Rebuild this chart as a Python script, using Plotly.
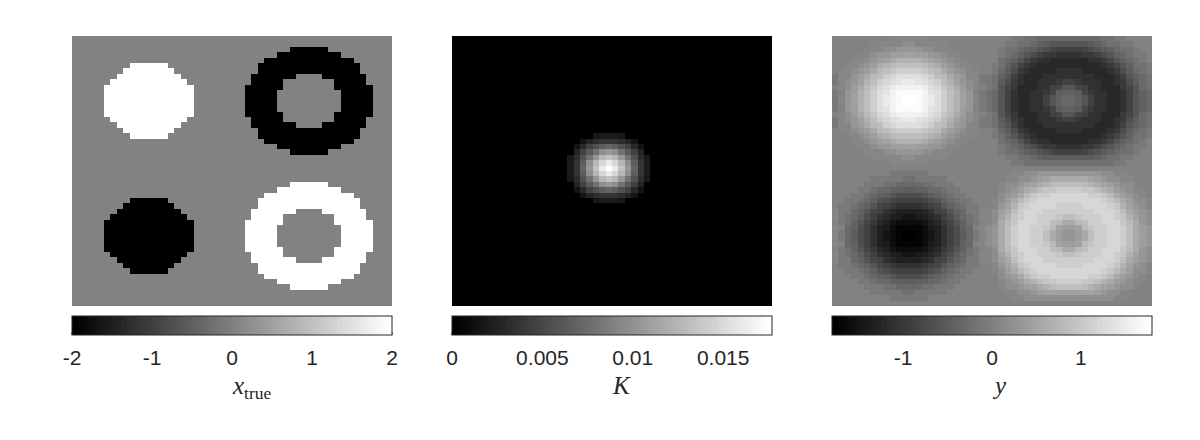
import numpy as np
import plotly.graph_objects as go

# x_true cells, top row first: . = 0, W = +2, K = -2
x_true_rows = [
    "..................................................",
    "..................................................",
    "..................................KKKKKK..........",
    "................................KKKKKKKKKK........",
    "..............................KKKKKKKKKKKKKK......",
    ".........WWWWWW..............KKKKKKKKKKKKKKKK.....",
    "........WWWWWWWW.............KKKKKKKKKKKKKKKK.....",
    ".......WWWWWWWWWW...........KKKKKKK....KKKKKKK....",
    "......WWWWWWWWWWWW..........KKKKK........KKKKK....",
    ".....WWWWWWWWWWWWWW........KKKKKK........KKKKKK...",
    ".....WWWWWWWWWWWWWW........KKKKK..........KKKKK...",
    ".....WWWWWWWWWWWWWW........KKKKK..........KKKKK...",
    ".....WWWWWWWWWWWWWW........KKKKK..........KKKKK...",
    ".....WWWWWWWWWWWWWW........KKKKK..........KKKKK...",
    ".....WWWWWWWWWWWWWW........KKKKKK........KKKKKK...",
    "......WWWWWWWWWWWW..........KKKKK........KKKKK....",
    ".......WWWWWWWWWW...........KKKKKKK....KKKKKKK....",
    "........WWWWWWWW.............KKKKKKKKKKKKKKKK.....",
    ".........WWWWWW..............KKKKKKKKKKKKKKKK.....",
    "..............................KKKKKKKKKKKKKK......",
    "................................KKKKKKKKKK........",
    "..................................KKKKKK..........",
    "..................................................",
    "..................................................",
    "..................................................",
    "..................................................",
    "..................................................",
    "..................................WWWWWW..........",
    "................................WWWWWWWWWW........",
    "..............................WWWWWWWWWWWWWW......",
    ".........KKKKKK..............WWWWWWWWWWWWWWWW.....",
    "........KKKKKKKK.............WWWWWWWWWWWWWWWW.....",
    ".......KKKKKKKKKK...........WWWWWWW....WWWWWWW....",
    "......KKKKKKKKKKKK..........WWWWW........WWWWW....",
    ".....KKKKKKKKKKKKKK........WWWWWW........WWWWWW...",
    ".....KKKKKKKKKKKKKK........WWWWW..........WWWWW...",
    ".....KKKKKKKKKKKKKK........WWWWW..........WWWWW...",
    ".....KKKKKKKKKKKKKK........WWWWW..........WWWWW...",
    ".....KKKKKKKKKKKKKK........WWWWW..........WWWWW...",
    ".....KKKKKKKKKKKKKK........WWWWWW........WWWWWW...",
    "......KKKKKKKKKKKK..........WWWWW........WWWWW....",
    ".......KKKKKKKKKK...........WWWWWWW....WWWWWWW....",
    "........KKKKKKKK.............WWWWWWWWWWWWWWWW.....",
    ".........KKKKKK..............WWWWWWWWWWWWWWWW.....",
    "..............................WWWWWWWWWWWWWW......",
    "................................WWWWWWWWWW........",
    "..................................WWWWWW..........",
    "..................................................",
    "..................................................",
    "..................................................",
]

# kernel: central 13x13 block, grey level 0-255
k_block = [
    [0, 0, 0, 0, 25, 28, 30, 28, 25, 0, 0, 0, 0],
    [0, 0, 22, 38, 45, 52, 55, 52, 45, 38, 22, 0, 0],
    [0, 22, 40, 65, 82, 95, 100, 95, 82, 65, 40, 22, 0],
    [0, 38, 65, 90, 115, 140, 150, 140, 115, 90, 65, 38, 0],
    [25, 45, 82, 115, 150, 180, 195, 180, 150, 115, 82, 45, 25],
    [28, 52, 95, 140, 180, 215, 235, 215, 180, 140, 95, 52, 28],
    [30, 55, 100, 150, 195, 235, 255, 235, 195, 150, 100, 55, 30],
    [28, 52, 95, 140, 180, 215, 235, 215, 180, 140, 95, 52, 28],
    [25, 45, 82, 115, 150, 180, 195, 180, 150, 115, 82, 45, 25],
    [0, 38, 65, 90, 115, 140, 150, 140, 115, 90, 65, 38, 0],
    [0, 22, 40, 65, 82, 95, 100, 95, 82, 65, 40, 22, 0],
    [0, 0, 22, 38, 45, 52, 55, 52, 45, 38, 22, 0, 0],
    [0, 0, 0, 0, 25, 28, 30, 28, 25, 0, 0, 0, 0],
]
k_max = 0.0177

# y cells in tenths
y_tenths = [
    [0,0,0,0,0,0,0,0,0,1,1,1,1,1,1,0,0,0,0,0,0,0,0,0,0,0,0,0,-1,-1,-2,-2,-3,-3,-3,-3,-3,-3,-3,-3,-3,-3,-2,-2,-1,-1,0,0,0,0],
    [0,0,0,0,0,0,1,1,1,1,1,2,2,1,1,1,1,1,0,0,0,0,0,0,0,0,0,-1,-1,-2,-2,-3,-4,-5,-6,-6,-6,-6,-6,-6,-5,-4,-3,-2,-2,-1,-1,0,0,0],
    [0,0,0,0,0,1,1,1,2,2,3,3,3,3,2,2,1,1,1,0,0,0,0,0,0,0,-1,-2,-2,-3,-4,-5,-6,-7,-8,-9,-9,-9,-9,-8,-7,-6,-5,-4,-3,-2,-2,-1,0,0],
    [0,0,0,0,1,1,2,3,3,4,4,5,5,4,4,3,3,2,1,1,0,0,0,0,0,0,-1,-2,-3,-4,-6,-7,-9,-10,-10,-11,-11,-11,-11,-10,-10,-9,-7,-6,-4,-3,-2,-1,-1,0],
    [0,0,0,1,1,2,3,4,5,6,7,7,7,7,6,5,4,3,2,1,1,0,0,0,0,0,-2,-3,-4,-6,-8,-10,-11,-11,-12,-12,-12,-12,-12,-12,-11,-11,-10,-8,-6,-4,-3,-2,-1,0],
    [0,0,1,1,2,3,4,6,7,8,9,9,9,9,8,7,6,4,3,2,1,1,0,0,0,-1,-2,-4,-6,-8,-10,-11,-12,-12,-12,-12,-12,-12,-12,-12,-12,-12,-11,-10,-8,-6,-4,-2,-2,-1],
    [0,1,1,2,3,4,6,8,9,10,11,11,11,11,10,9,8,6,4,3,2,1,1,0,0,-1,-3,-5,-7,-10,-11,-12,-12,-12,-12,-11,-11,-11,-11,-12,-12,-12,-12,-11,-10,-7,-5,-3,-2,-1],
    [-1,1,1,3,4,6,8,9,11,12,13,13,13,13,12,11,9,8,6,4,3,1,1,-1,-1,-2,-4,-6,-9,-11,-12,-12,-12,-11,-11,-11,-11,-11,-11,-11,-11,-12,-12,-12,-11,-9,-6,-4,-3,-2],
    [-1,1,2,3,5,7,9,11,12,13,14,15,15,14,13,12,11,9,7,5,3,2,1,-1,-1,-2,-5,-7,-10,-11,-12,-12,-11,-11,-11,-10,-9,-9,-10,-11,-11,-11,-12,-12,-11,-10,-7,-5,-3,-2],
    [0,1,2,4,6,8,10,12,13,15,16,16,16,16,15,13,12,10,8,6,4,2,1,0,-1,-2,-6,-8,-10,-12,-12,-12,-11,-11,-9,-8,-6,-6,-8,-9,-11,-11,-12,-12,-12,-10,-8,-6,-3,-2],
    [-1,0,3,4,7,9,11,13,14,16,17,17,17,17,16,14,13,11,9,7,4,3,0,-1,-2,-3,-6,-9,-11,-12,-12,-11,-11,-10,-8,-5,-4,-4,-5,-8,-10,-11,-11,-12,-12,-11,-9,-6,-4,-3],
    [-1,1,3,5,7,9,11,13,15,16,17,18,18,17,16,15,13,11,9,7,5,3,1,-1,-2,-3,-6,-9,-11,-12,-12,-11,-11,-9,-6,-4,-3,-3,-4,-6,-9,-11,-11,-12,-12,-11,-9,-6,-4,-3],
    [-1,1,3,5,7,9,11,13,15,16,17,18,18,17,16,15,13,11,9,7,5,3,1,-1,-2,-3,-6,-9,-11,-12,-12,-11,-11,-9,-6,-4,-3,-3,-4,-6,-9,-11,-11,-12,-12,-11,-9,-6,-4,-3],
    [-1,0,3,4,7,9,11,13,14,16,17,17,17,17,16,14,13,11,9,7,4,3,0,-1,-2,-3,-6,-9,-11,-12,-12,-11,-11,-10,-8,-5,-4,-4,-5,-8,-10,-11,-11,-12,-12,-11,-9,-6,-4,-3],
    [0,1,2,4,6,8,10,12,13,15,16,16,16,16,15,13,12,10,8,6,4,2,1,0,-1,-2,-6,-8,-10,-12,-12,-12,-11,-11,-9,-8,-6,-6,-8,-9,-11,-11,-12,-12,-12,-10,-8,-6,-3,-2],
    [-1,1,2,3,5,7,9,11,12,13,14,15,15,14,13,12,11,9,7,5,3,2,1,-1,-1,-2,-5,-7,-10,-11,-12,-12,-11,-11,-11,-10,-9,-9,-10,-11,-11,-11,-12,-12,-11,-10,-7,-5,-3,-2],
    [-1,1,1,3,4,6,8,9,11,12,13,13,13,13,12,11,9,8,6,4,3,1,1,-1,-1,-2,-4,-6,-9,-11,-12,-12,-12,-11,-11,-11,-11,-11,-11,-11,-11,-12,-12,-12,-11,-9,-6,-4,-3,-2],
    [0,1,1,2,3,4,6,8,9,10,11,11,11,11,10,9,8,6,4,3,2,1,1,0,0,-1,-3,-5,-7,-10,-11,-12,-12,-12,-12,-11,-11,-11,-11,-12,-12,-12,-12,-11,-10,-7,-5,-3,-2,-1],
    [0,0,1,1,2,3,4,6,7,8,9,9,9,9,8,7,6,4,3,2,1,1,0,0,0,-1,-2,-4,-6,-8,-10,-11,-12,-12,-12,-12,-12,-12,-12,-12,-12,-12,-11,-10,-8,-6,-4,-2,-2,-1],
    [0,0,0,1,1,2,3,4,5,6,7,7,7,7,6,5,4,3,2,1,1,0,0,0,0,0,-2,-3,-4,-6,-8,-10,-11,-11,-12,-12,-12,-12,-12,-12,-11,-11,-10,-8,-6,-4,-3,-2,-1,0],
    [0,0,0,0,1,1,2,3,3,4,4,5,5,4,4,3,3,2,1,1,0,0,0,0,0,0,-1,-2,-3,-4,-6,-7,-9,-10,-10,-11,-11,-11,-11,-10,-10,-9,-7,-6,-4,-3,-2,-1,-1,0],
    [0,0,0,0,0,1,1,1,2,2,3,3,3,3,2,2,1,1,1,0,0,0,0,0,0,0,-1,-2,-2,-3,-4,-5,-6,-7,-8,-9,-9,-9,-9,-8,-7,-6,-5,-4,-3,-2,-2,-1,0,0],
    [0,0,0,0,0,0,1,1,1,1,1,2,2,1,1,1,1,1,0,0,0,0,0,0,0,0,0,-1,-1,-2,-2,-3,-4,-5,-5,-5,-5,-5,-5,-5,-5,-4,-3,-2,-2,-1,-1,0,0,0],
    [0,0,0,0,0,0,0,0,0,1,1,1,1,1,1,0,0,0,0,0,0,0,0,0,0,0,0,0,-1,-1,-2,-2,-2,-2,-2,-2,-2,-2,-2,-2,-2,-2,-2,-2,-1,-1,0,0,0,0],
    [0,0,0,0,0,0,0,0,0,0,0,0,0,0,0,0,0,0,0,0,0,0,0,0,0,0,0,0,0,0,0,0,0,0,0,0,0,0,0,0,0,0,0,0,0,0,0,0,0,0],
    [0,0,0,0,0,0,0,0,0,-1,-1,-1,-1,-1,-1,0,0,0,0,0,0,0,0,0,0,0,0,0,1,1,2,2,3,3,3,3,3,3,3,3,3,3,2,2,1,1,0,0,0,0],
    [0,0,0,0,0,0,-1,-1,-1,-1,-1,-2,-2,-1,-1,-1,-1,-1,0,0,0,0,0,0,0,0,0,1,1,2,2,3,4,5,6,6,6,6,6,6,5,4,3,2,2,1,1,0,0,0],
    [0,0,0,0,0,-1,-1,-1,-2,-2,-3,-3,-3,-3,-2,-2,-1,-1,-1,0,0,0,0,0,0,0,1,2,2,3,4,5,6,7,8,9,9,9,9,8,7,6,5,4,3,2,2,1,0,0],
    [0,0,0,0,-1,-1,-2,-3,-3,-4,-4,-5,-5,-4,-4,-3,-3,-2,-1,-1,0,0,0,0,0,0,1,2,3,4,6,7,9,10,10,11,11,11,11,10,10,9,7,6,4,3,2,1,1,0],
    [0,0,0,-1,-1,-2,-3,-4,-5,-6,-7,-7,-7,-7,-6,-5,-4,-3,-2,-1,-1,0,0,0,0,0,2,3,4,6,8,10,11,11,12,12,12,12,12,12,11,11,10,8,6,4,3,2,1,0],
    [0,0,-1,-1,-2,-3,-4,-6,-7,-8,-9,-9,-9,-9,-8,-7,-6,-4,-3,-2,-1,-1,0,0,0,1,2,4,6,8,10,11,12,12,12,12,12,12,12,12,12,12,11,10,8,6,4,2,2,1],
    [0,-1,-1,-2,-3,-4,-6,-8,-9,-10,-11,-11,-11,-11,-10,-9,-8,-6,-4,-3,-2,-1,-1,0,0,1,3,5,7,10,11,12,12,12,12,11,11,11,11,12,12,12,12,11,10,7,5,3,2,1],
    [1,-1,-1,-3,-4,-6,-8,-9,-11,-12,-13,-13,-13,-13,-12,-11,-9,-8,-6,-4,-3,-1,-1,1,1,2,4,6,9,11,12,12,12,11,11,11,11,11,11,11,11,12,12,12,11,9,6,4,3,2],
    [1,-1,-2,-3,-5,-7,-9,-11,-12,-13,-14,-15,-15,-14,-13,-12,-11,-9,-7,-5,-3,-2,-1,1,1,2,5,7,10,11,12,12,11,11,11,10,9,9,10,11,11,11,12,12,11,10,7,5,3,2],
    [0,-1,-2,-4,-6,-8,-10,-12,-13,-15,-16,-16,-16,-16,-15,-13,-12,-10,-8,-6,-4,-2,-1,0,1,2,6,8,10,12,12,12,11,11,9,8,6,6,8,9,11,11,12,12,12,10,8,6,3,2],
    [1,0,-3,-4,-7,-9,-11,-13,-14,-16,-17,-17,-17,-17,-16,-14,-13,-11,-9,-7,-4,-3,0,1,2,3,6,9,11,12,12,11,11,10,8,5,4,4,5,8,10,11,11,12,12,11,9,6,4,3],
    [1,-1,-3,-5,-7,-9,-11,-13,-15,-16,-17,-18,-18,-17,-16,-15,-13,-11,-9,-7,-5,-3,-1,1,2,3,6,9,11,12,12,11,11,9,6,4,3,3,4,6,9,11,11,12,12,11,9,6,4,3],
    [1,-1,-3,-5,-7,-9,-11,-13,-15,-16,-17,-18,-18,-17,-16,-15,-13,-11,-9,-7,-5,-3,-1,1,2,3,6,9,11,12,12,11,11,9,6,4,3,3,4,6,9,11,11,12,12,11,9,6,4,3],
    [1,0,-3,-4,-7,-9,-11,-13,-14,-16,-17,-17,-17,-17,-16,-14,-13,-11,-9,-7,-4,-3,0,1,2,3,6,9,11,12,12,11,11,10,8,5,4,4,5,8,10,11,11,12,12,11,9,6,4,3],
    [0,-1,-2,-4,-6,-8,-10,-12,-13,-15,-16,-16,-16,-16,-15,-13,-12,-10,-8,-6,-4,-2,-1,0,1,2,6,8,10,12,12,12,11,11,9,8,6,6,8,9,11,11,12,12,12,10,8,6,3,2],
    [1,-1,-2,-3,-5,-7,-9,-11,-12,-13,-14,-15,-15,-14,-13,-12,-11,-9,-7,-5,-3,-2,-1,1,1,2,5,7,10,11,12,12,11,11,11,10,9,9,10,11,11,11,12,12,11,10,7,5,3,2],
    [1,-1,-1,-3,-4,-6,-8,-9,-11,-12,-13,-13,-13,-13,-12,-11,-9,-8,-6,-4,-3,-1,-1,1,1,2,4,6,9,11,12,12,12,11,11,11,11,11,11,11,11,12,12,12,11,9,6,4,3,2],
    [0,-1,-1,-2,-3,-4,-6,-8,-9,-10,-11,-11,-11,-11,-10,-9,-8,-6,-4,-3,-2,-1,-1,0,0,1,3,5,7,10,11,12,12,12,12,11,11,11,11,12,12,12,12,11,10,7,5,3,2,1],
    [0,0,-1,-1,-2,-3,-4,-6,-7,-8,-9,-9,-9,-9,-8,-7,-6,-4,-3,-2,-1,-1,0,0,0,1,2,4,6,8,10,11,12,12,12,12,12,12,12,12,12,12,11,10,8,6,4,2,2,1],
    [0,0,0,-1,-1,-2,-3,-4,-5,-6,-7,-7,-7,-7,-6,-5,-4,-3,-2,-1,-1,0,0,0,0,0,2,3,4,6,8,10,11,11,12,12,12,12,12,12,11,11,10,8,6,4,3,2,1,0],
    [0,0,0,0,-1,-1,-2,-3,-3,-4,-4,-5,-5,-4,-4,-3,-3,-2,-1,-1,0,0,0,0,0,0,1,2,3,4,6,7,9,10,10,11,11,11,11,10,10,9,7,6,4,3,2,1,1,0],
    [0,0,0,0,0,-1,-1,-1,-2,-2,-3,-3,-3,-3,-2,-2,-1,-1,-1,0,0,0,0,0,0,0,1,2,2,3,4,5,6,7,8,9,9,9,9,8,7,6,5,4,3,2,2,1,0,0],
    [0,0,0,0,0,0,-1,-1,-1,-1,-1,-2,-2,-1,-1,-1,-1,-1,0,0,0,0,0,0,0,0,0,1,1,2,2,3,4,5,5,5,5,5,5,5,5,4,3,2,2,1,1,0,0,0],
    [0,0,0,0,0,0,0,0,0,-1,-1,-1,-1,-1,-1,0,0,0,0,0,0,0,0,0,0,0,0,0,1,1,2,2,2,2,2,2,2,2,2,2,2,2,2,2,1,1,0,0,0,0],
    [0,0,0,0,0,0,0,0,0,0,0,0,0,0,0,0,0,0,0,0,0,0,0,0,0,0,0,0,0,0,0,0,0,0,0,0,0,0,0,0,0,0,0,0,0,0,0,0,0,0],
]

x_ticks = [-2, -1, 0, 1, 2]
x_ticktext = ["-2", "-1", "0", "1", "2"]
k_ticks = [0, 0.005, 0.01, 0.015]
k_ticktext = ["0", "0.005", "0.01", "0.015"]
y_ticks = [-1, 0, 1]
y_ticktext = ["-1", "0", "1"]

W, H = 1200, 440
TEXT = "#262626"

# matlab style gray(64)
gray64 = []
for i in range(64):
    g = round(i / 63 * 255)
    gray64 += [[i / 64, f"rgb({g},{g},{g})"], [(i + 1) / 64, f"rgb({g},{g},{g})"]]

x_true = np.array([[{".": 0, "W": 2, "K": -2}[ch] for ch in row] for row in x_true_rows])
K = np.zeros((50, 50))
K[18:31, 18:31] = np.array(k_block) / 255 * k_max
y = np.array(y_tenths) / 10


def add_panel(fig, n, z, zmin, zmax, left, ticks, ticktext, label):
    width = 320
    cx = (left + width / 2) / W
    fig.add_trace(go.Heatmap(
        z=z,
        zmin=zmin,
        zmax=zmax,
        colorscale=gray64,
        xaxis=f"x{n}",
        yaxis=f"y{n}",
        hoverinfo="skip",
        colorbar=dict(
            orientation="h",
            x=cx,
            xanchor="center",
            y=1 - 316 / H,
            yanchor="top",
            len=width / W,
            lenmode="fraction",
            thickness=19,
            thicknessmode="pixels",
            xpad=0,
            ypad=0,
            outlinewidth=1,
            outlinecolor=TEXT,
            # transparent outside ticks only push the labels down, the
            # visible inside ticks are drawn as shapes below
            ticks="outside",
            ticklen=5,
            tickcolor="rgba(0,0,0,0)",
            tickmode="array",
            tickvals=ticks,
            ticktext=ticktext,
            tickfont=dict(family="Liberation Sans", size=21, color=TEXT),
        ),
    ))
    fig.update_layout({
        f"xaxis{n}": dict(domain=[left / W, (left + width) / W], range=[-0.5, 49.5],
                          visible=False, anchor=f"y{n}"),
        f"yaxis{n}": dict(domain=[1 - 306 / H, 1 - 36 / H], range=[49.5, -0.5],
                          visible=False, anchor=f"x{n}"),
    })
    for v in ticks:
        tx = (left + (v - zmin) / (zmax - zmin) * width) / W
        fig.add_shape(type="line", xref="paper", yref="paper", x0=tx, x1=tx,
                      y0=1 - 335 / H, y1=1 - 332 / H, line=dict(color=TEXT, width=1))
    fig.add_annotation(
        text=label, x=cx, y=1 - 370 / H, xref="paper", yref="paper",
        showarrow=False, xanchor="left", yanchor="top", xshift=-2,
        font=dict(family="Liberation Serif", size=25, color=TEXT),
    )


fig = go.Figure()
add_panel(fig, 1, x_true, -2, 2, 72, x_ticks, x_ticktext, "<i>x</i><sub>true</sub>")
add_panel(fig, 2, K, 0, k_max, 452, k_ticks, k_ticktext, "<i>K</i>")
add_panel(fig, 3, y, -1.8, 1.8, 832, y_ticks, y_ticktext, "<i>y</i>")

fig.update_layout(
    width=W,
    height=H,
    margin=dict(l=0, r=0, t=0, b=0),
    paper_bgcolor="white",
    plot_bgcolor="white",
)
fig.write_html("out.html", config={"displayModeBar": False},
               post_script="document.body.style.margin='0';")
